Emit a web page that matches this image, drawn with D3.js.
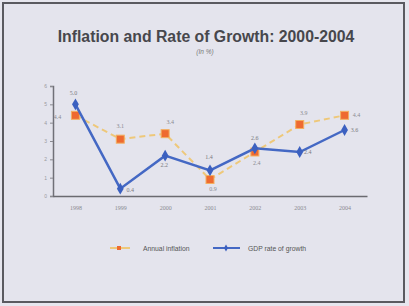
<!DOCTYPE html>
<html>
<head>
<meta charset="utf-8">
<script src="https://cdn.jsdelivr.net/npm/d3@7"></script>
<style>
  html, body { margin: 0; padding: 0; background: #e6e6ee; }
  svg { display: block; }
</style>
</head>
<body>
<svg width="409" height="306"></svg>
<script>
var years = ["1998", "1999", "2000", "2001", "2002", "2003", "2004"];
var inflation = [4.4, 3.1, 3.4, 0.9, 2.4, 3.9, 4.4];
var gdp = [5.0, 0.4, 2.2, 1.4, 2.6, 2.4, 3.6];
var yTicks = [0, 1, 2, 3, 4, 5, 6];

var svg = d3.select("svg");
var margin = { top: 86, right: 42, bottom: 110, left: 53 };
var width = +svg.attr("width") - margin.left - margin.right;
var height = +svg.attr("height") - margin.top - margin.bottom;

// photo frame
svg.append("rect").attr("x", 3).attr("y", 3).attr("width", 401).attr("height", 299)
    .attr("fill", "#e4e4ed").attr("stroke", "#5a5a60").attr("stroke-width", 2);

svg.append("text").attr("x", 206).attr("y", 42).attr("text-anchor", "middle")
    .attr("font-family", "Liberation Sans, Arial, sans-serif").attr("font-size", 15.8)
    .attr("font-weight", "bold").attr("fill", "#47474c")
    .text("Inflation and Rate of Growth: 2000-2004");
svg.append("text").attr("x", 205).attr("y", 54).attr("text-anchor", "middle")
    .attr("font-family", "Liberation Sans, Arial, sans-serif").attr("font-size", 6.5)
    .attr("font-style", "italic").attr("fill", "#777")
    .text("(In %)");

var g = svg.append("g").attr("transform", "translate(" + margin.left + "," + margin.top + ")");

var x = d3.scalePoint().domain(years).range([0, width]).padding(0.5);
var y = d3.scaleLinear().domain([0, 6]).range([height, 0]);

var yAxis = g.append("g").call(d3.axisLeft(y).tickValues(yTicks).tickSize(3).tickFormat(d3.format("d")));
yAxis.select(".domain").attr("stroke", "#707078").attr("stroke-width", 1.5);
yAxis.selectAll(".tick line").attr("stroke", "#8a8a90");
yAxis.selectAll("text").attr("fill", "#9a9aa0").attr("font-size", 5).attr("x", -6);

var xAxis = g.append("g").attr("transform", "translate(0," + height + ")")
    .call(d3.axisBottom(x).tickSize(0).tickPadding(10));
xAxis.select(".domain").attr("stroke", "#6a6a70").attr("stroke-width", 1.5);
xAxis.selectAll("text").attr("fill", "#8a8a90").attr("font-size", 6)
    .attr("font-family", "Liberation Serif, serif");

var line = d3.line().x(function (d, i) { return x(years[i]); }).y(function (d) { return y(d); });

// inflation (dashed, squares)
g.append("path").datum(inflation).attr("fill", "none").attr("stroke", "#eec87a")
    .attr("stroke-width", 2).attr("stroke-dasharray", "6,4").attr("d", line);
g.selectAll(".sq").data(inflation).enter().append("rect").attr("class", "sq")
    .attr("x", function (d, i) { return x(years[i]) - 4; })
    .attr("y", function (d) { return y(d) - 4; })
    .attr("width", 8).attr("height", 8)
    .attr("fill", "#ee6a30").attr("stroke", "#f3b060").attr("stroke-width", 1);

// GDP (solid, diamonds)
g.append("path").datum(gdp).attr("fill", "none").attr("stroke", "#4468c4")
    .attr("stroke-width", 2.5).attr("d", line);
g.selectAll(".dm").data(gdp).enter().append("path").attr("class", "dm")
    .attr("transform", function (d, i) { return "translate(" + x(years[i]) + "," + y(d) + ")"; })
    .attr("d", d3.symbol().type(d3.symbolDiamond).size(40))
    .attr("fill", "#3b60c0");

// value labels
var infOff = [[-18, 4], [0, -11], [5, -10], [3, 11], [2, 13], [4, -10], [12, 2]];
var gdpOff = [[-2, -9], [10, 3], [-1, 11], [-1, -11], [0, -8], [8, 2], [10, 2]];
g.selectAll(".il").data(inflation).enter().append("text").attr("class", "il")
    .attr("x", function (d, i) { return x(years[i]) + infOff[i][0]; })
    .attr("y", function (d, i) { return y(d) + infOff[i][1]; })
    .attr("font-size", 6).attr("fill", "#8a8a90").attr("font-family", "Liberation Serif, serif")
    .attr("text-anchor", "middle").text(function (d) { return d3.format(".1f")(d); });
g.selectAll(".gl").data(gdp).enter().append("text").attr("class", "gl")
    .attr("x", function (d, i) { return x(years[i]) + gdpOff[i][0]; })
    .attr("y", function (d, i) { return y(d) + gdpOff[i][1]; })
    .attr("font-size", 6).attr("fill", "#7a7a80").attr("font-family", "Liberation Serif, serif")
    .attr("text-anchor", "middle").text(function (d) { return d3.format(".1f")(d); });

// legend
var lg = svg.append("g").attr("transform", "translate(0,248)");
lg.append("line").attr("x1", 110).attr("x2", 130).attr("stroke", "#eec87a").attr("stroke-width", 2);
lg.append("rect").attr("x", 117).attr("y", -2).attr("width", 4).attr("height", 4).attr("fill", "#ee6a30");
lg.append("text").attr("x", 143).attr("y", 2.5).attr("font-size", 6.8).attr("fill", "#555")
    .attr("font-family", "Liberation Sans, Arial, sans-serif").text("Annual inflation");
lg.append("line").attr("x1", 213).attr("x2", 240).attr("stroke", "#4468c4").attr("stroke-width", 2);
lg.append("path").attr("transform", "translate(226,0)").attr("d", d3.symbol().type(d3.symbolDiamond).size(14)).attr("fill", "#3b60c0");
lg.append("text").attr("x", 248).attr("y", 2.5).attr("font-size", 6.8).attr("fill", "#555")
    .attr("font-family", "Liberation Sans, Arial, sans-serif").text("GDP rate of growth");
</script>
</body>
</html>
